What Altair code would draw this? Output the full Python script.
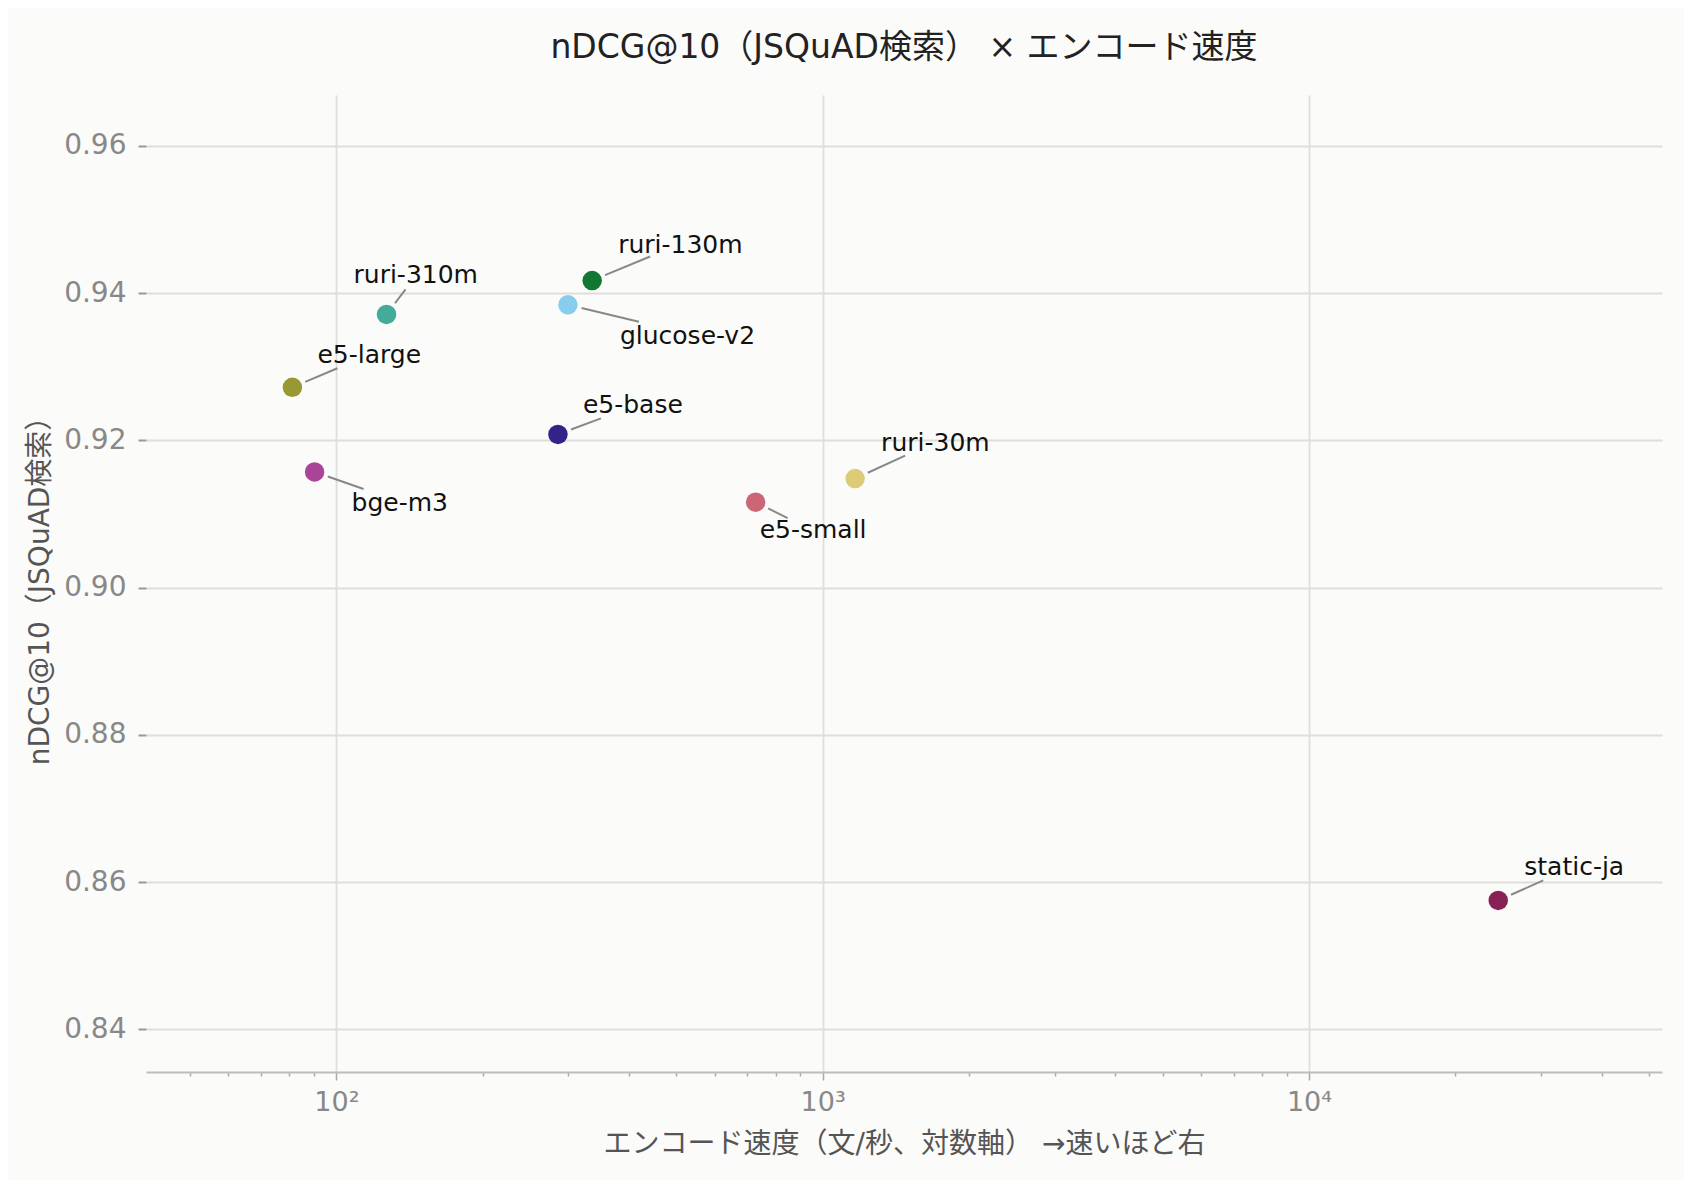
import math
import altair as alt
import pandas as pd

# ---- data ----
models = ["e5-large", "bge-m3", "ruri-310m", "glucose-v2", "ruri-130m",
          "e5-base", "e5-small", "ruri-30m", "static-ja"]
speed = [81.2, 90.2, 126.8, 299.3, 335.7, 285.5, 728, 1166, 24500]
ndcg = [0.9272, 0.9157, 0.9371, 0.9384, 0.9417, 0.9208, 0.9116, 0.9148, 0.8575]
colors = ["#999933", "#AA4499", "#44AA99", "#88CCEE", "#117733",
          "#332288", "#CC6677", "#DDCC77", "#882255"]

# label placement (pixel offsets from each point: text left/middle, leader end)
label_text_off = {
    "e5-large": (25, -32), "bge-m3": (37, 31), "ruri-310m": (-33, -39),
    "glucose-v2": (52, 31), "ruri-130m": (26, -36), "e5-base": (25, -29),
    "e5-small": (4, 28), "ruri-30m": (26, -36), "static-ja": (26, -33),
}
label_line_end = {
    "e5-large": (45, -19), "bge-m3": (49, 17), "ruri-310m": (19, -25),
    "glucose-v2": (71, 17), "ruri-130m": (58, -24), "e5-base": (43, -16),
    "e5-small": (32, 16), "ruri-30m": (50, -23), "static-ja": (45, -20),
}

X_DOMAIN = [40.6, 53200]
Y_DOMAIN = [0.8342, 0.9669]
W, H = 1516, 977
FONT = "DejaVu Sans, Noto Sans CJK JP"

px_per_dec = W / math.log10(X_DOMAIN[1] / X_DOMAIN[0])
px_per_unit = H / (Y_DOMAIN[1] - Y_DOMAIN[0])


def xoff(v, dpx):
    return v * 10 ** (dpx / px_per_dec)


def yoff(v, dpx):
    return v - dpx / px_per_unit


rows = []
for m, s, n, c in zip(models, speed, ndcg, colors):
    tx, ty = label_text_off[m]
    ex, ey = label_line_end[m]
    L = math.hypot(ex, ey)
    sx, sy = ex / L * 14, ey / L * 14
    rows.append(dict(model=m, speed=s, ndcg=n, color=c,
                     tx=xoff(s, tx), ty=yoff(n, ty),
                     lx1=xoff(s, sx), ly1=yoff(n, sy),
                     lx2=xoff(s, ex), ly2=yoff(n, ey)))
df = pd.DataFrame(rows)

minor_vals = [50, 60, 70, 80, 90] + [k * 100 for k in range(1, 10)] + \
    [k * 1000 for k in range(1, 10)] + [k * 10000 for k in range(1, 6)]
is_major = "datum.value == 100 || datum.value == 1000 || datum.value == 10000"

xscale = alt.Scale(type="log", domain=X_DOMAIN, nice=False)
yscale = alt.Scale(domain=Y_DOMAIN, nice=False, zero=False)

xaxis = alt.Axis(
    title="エンコード速度（文/秒、対数軸） →速いほど右",
    values=minor_vals,
    labelExpr="datum.value == 100 ? '10²' : datum.value == 1000 ? '10³' : datum.value == 10000 ? '10⁴' : ''",
    labelOverlap=False, labelFlush=False, labelBound=False,
    labelColor="#888888", labelFontSize=27, labelFont=FONT, labelPadding=9,
    tickSize={"condition": {"test": is_major, "value": 8}, "value": 4},
    tickColor="#aaaaaa", tickWidth=1.5,
    grid=True, gridColor="#dededa", gridWidth=1.8,
    gridOpacity={"condition": {"test": is_major, "value": 1}, "value": 0},
    domain=True, domainColor="#bdbdbd", domainWidth=2,
    titleFont=FONT, titleFontSize=28, titleColor="#555555",
    titleFontWeight="normal", titlePadding=15,
)
yaxis = alt.Axis(
    title="nDCG@10（JSQuAD検索）",
    values=[0.84, 0.86, 0.88, 0.90, 0.92, 0.94, 0.96], format=".2f",
    labelColor="#888888", labelFontSize=28, labelFont=FONT, labelPadding=12,
    tickSize=8, tickColor="#999999", tickWidth=2,
    grid=True, gridColor="#dededa", gridWidth=2,
    domain=False,
    titleFont=FONT, titleFontSize=28, titleColor="#555555",
    titleFontWeight="normal", titlePadding=9,
)

base = alt.Chart(df)

leaders = base.mark_rule(color="#888888", strokeWidth=2).encode(
    x=alt.X("lx1:Q", scale=xscale, axis=xaxis),
    y=alt.Y("ly1:Q", scale=yscale, axis=yaxis),
    x2="lx2:Q", y2="ly2:Q",
)

points = base.mark_circle(size=380, opacity=1).encode(
    x=alt.X("speed:Q", scale=xscale),
    y=alt.Y("ndcg:Q", scale=yscale),
    color=alt.Color("color:N", scale=None),
)

labels = base.mark_text(align="left", baseline="middle", fontSize=25,
                        font=FONT, color="#111111").encode(
    x=alt.X("tx:Q", scale=xscale),
    y=alt.Y("ty:Q", scale=yscale),
    text="model:N",
)

chart = alt.layer(leaders, points, labels).properties(
    width=W, height=H,
    title=alt.TitleParams(
        "nDCG@10（JSQuAD検索） × エンコード速度",
        font=FONT, fontSize=33, fontWeight="normal", color="#222222",
        anchor="middle", frame="group", offset=30,
    ),
    autosize=alt.AutoSizeParams(type="none"),
    padding={"left": 138, "top": 87, "right": 22, "bottom": 108},
    background="#fbfbfa",
).configure_view(stroke=None, fill="#fbfbfa")

chart.save("out.html", embed_options={"renderer": "svg", "actions": False})
